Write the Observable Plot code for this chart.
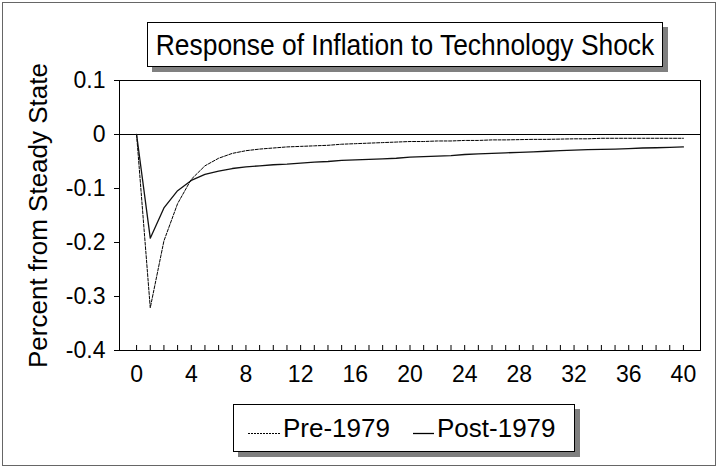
<!DOCTYPE html>
<html><head><meta charset="utf-8">
<script src="https://cdn.jsdelivr.net/npm/d3@7"></script>
<script src="https://cdn.jsdelivr.net/npm/@observablehq/plot@0.6"></script>
<style>
body{margin:0;background:#fff;font-family:"Liberation Sans",Arial,sans-serif;color:#000;}
#wrap{position:relative;width:719px;height:468px;overflow:hidden;background:#fff;}
#outer{position:absolute;left:2px;top:2px;width:714px;height:464px;border:1px solid #666;box-sizing:border-box;}
#chart{position:absolute;left:0;top:0;}
#title{position:absolute;left:147px;top:22px;width:516px;height:45px;box-sizing:border-box;border:1px solid #000;background:#fff;box-shadow:5px 5px 0 #808080;font-size:30px;line-height:43px;white-space:nowrap;}
#title span{position:absolute;left:50%;top:0;transform:translateX(-50%) scaleX(0.88);transform-origin:center;}
#legend{position:absolute;left:233px;top:404px;width:342px;height:48px;box-sizing:border-box;border:1px solid #000;background:#fff;box-shadow:5px 5px 0 #808080;font-size:26px;}
.item{position:absolute;top:0;height:46px;line-height:46px;white-space:nowrap;}
</style>
</head><body>
<div id="wrap">
  <div id="outer"></div>
  <div id="chart"></div>
  <div id="title"><span></span></div>
  <div id="legend"></div>
</div>
<script>
// ---- data ----
const titleText = "Response of Inflation to Technology Shock";
const yLabel = "Percent from Steady State";
const seriesNames = ["Pre-1979", "Post-1979"];
const periods = [0,1,2,3,4,5,6,7,8,9,10,11,12,13,14,15,16,17,18,19,20,21,22,23,24,25,26,27,28,29,30,31,32,33,34,35,36,37,38,39,40];
const pre1979 = [0,-0.321,-0.197,-0.128,-0.083,-0.058,-0.044,-0.035,-0.030,-0.027,-0.025,-0.023,-0.022,-0.021,-0.020,-0.018,-0.017,-0.016,-0.015,-0.014,-0.013,-0.013,-0.012,-0.012,-0.011,-0.011,-0.010,-0.010,-0.0095,-0.009,-0.009,-0.0085,-0.008,-0.008,-0.007,-0.007,-0.007,-0.007,-0.007,-0.007,-0.007];
const post1979 = [0,-0.192,-0.136,-0.104,-0.085,-0.074,-0.068,-0.063,-0.060,-0.058,-0.056,-0.055,-0.053,-0.051,-0.050,-0.048,-0.047,-0.046,-0.045,-0.044,-0.042,-0.041,-0.040,-0.039,-0.037,-0.036,-0.035,-0.034,-0.033,-0.032,-0.031,-0.030,-0.029,-0.028,-0.0275,-0.027,-0.026,-0.025,-0.0245,-0.024,-0.023];
const xTickLabels = [0,4,8,12,16,20,24,28,32,36,40];
const xMinorTicks = periods;
const yTicks = [0.1, 0, -0.1, -0.2, -0.3, -0.4];
const yTickLabels = ["0.1", "0", "-0.1", "-0.2", "-0.3", "-0.4"];

// ---- build ----
const preData = periods.map((p, i) => ({x: p, y: pre1979[i]}));
const postData = periods.map((p, i) => ({x: p, y: post1979[i]}));
const font = "Liberation Sans, Arial, sans-serif";

const chart = Plot.plot({
  width: 719,
  height: 468,
  marginLeft: 119,
  marginRight: 19,
  marginTop: 80,
  marginBottom: 118,
  style: {fontFamily: font, color: "#000", background: "transparent"},
  x: {domain: [-1.25, 41.25]},
  y: {domain: [-0.4, 0.1]},
  marks: [
    Plot.frame({stroke: "#000", strokeWidth: 1}),
    Plot.ruleY([0], {stroke: "#000", strokeWidth: 1}),
    Plot.axisX({ticks: xMinorTicks, tickSize: -5, fill: "none", label: null, stroke: "#000"}),
    Plot.axisX({ticks: xTickLabels, tickSize: 0, stroke: "none", tickPadding: 15, fontSize: 23, label: null, tickFormat: d => String(d), fill: "#000"}),
    Plot.axisY({ticks: yTicks, tickSize: 5, tickPadding: 9, fontSize: 23, label: null,
      tickFormat: d => yTickLabels[yTicks.indexOf(d)], stroke: "#000", fill: "#000"}),
    Plot.text([yLabel], {text: d => d, frameAnchor: "left", textAnchor: "middle", rotate: -90, dx: -81, fontSize: 26, fill: "#000"}),
    Plot.line(preData, {x: "x", y: "y", stroke: "#000", strokeWidth: 1, strokeDasharray: "3,1.5"}),
    Plot.line(postData, {x: "x", y: "y", stroke: "#111", strokeWidth: 1.3})
  ]
});
document.getElementById("chart").appendChild(chart);

document.querySelector("#title span").textContent = titleText;

const legend = document.getElementById("legend");
const legendLayout = [{sx: 14, sw: 32, tx: 49, dash: "2,1", w: 1}, {sx: 179, sw: 21, tx: 203, dash: null, w: 1.3}];
seriesNames.forEach((name, i) => {
  const L = legendLayout[i];
  const sw = document.createElementNS("http://www.w3.org/2000/svg", "svg");
  sw.setAttribute("width", L.sw); sw.setAttribute("height", 46);
  sw.style.position = "absolute"; sw.style.left = L.sx + "px"; sw.style.top = "0px";
  const ln = document.createElementNS("http://www.w3.org/2000/svg", "line");
  ln.setAttribute("x1", 0); ln.setAttribute("x2", L.sw); ln.setAttribute("y1", 28.5); ln.setAttribute("y2", 28.5);
  ln.setAttribute("stroke", "#000"); ln.setAttribute("stroke-width", L.w);
  if (L.dash) ln.setAttribute("stroke-dasharray", L.dash);
  sw.appendChild(ln);
  legend.appendChild(sw);
  const t = document.createElement("div");
  t.className = "item"; t.style.left = L.tx + "px"; t.textContent = name;
  legend.appendChild(t);
});
</script>
</body></html>
